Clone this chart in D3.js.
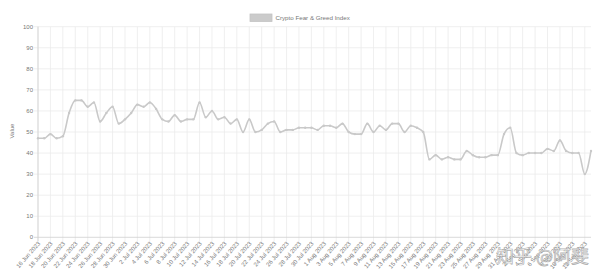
<!DOCTYPE html>
<html>
<head>
<meta charset="utf-8">
<script src="https://cdn.jsdelivr.net/npm/d3@7"></script>
<style>
  body { margin: 0; background: #fff; }
  svg { display: block; font-family: "Liberation Sans", Arial, sans-serif; }
</style>
</head>
<body>
<svg id="chart" width="602" height="279"></svg>
<script>
const seriesName = 'Crypto Fear & Greed Index'
const startDay = new Date(2023, 5, 16)
const endDay = new Date(2023, 8, 13)
const values = [
  47, 47, 49, 47, 48, 59, 65, 65, 62, 64,
  55, 59, 62, 54, 56, 59, 63, 62, 64, 61,
  56, 55, 58, 55, 56, 56, 64, 57, 60, 56,
  57, 54, 56, 50, 56, 50, 51, 54, 55, 50,
  51, 51, 52, 52, 52, 51, 53, 53, 52, 54,
  50, 49, 49, 54, 50, 53, 51, 54, 54, 50,
  53, 52, 50, 37, 39, 37, 38, 37, 37, 41,
  39, 38, 38, 39, 39, 49, 52, 40, 39, 40,
  40, 40, 42, 41, 46, 41, 40, 40, 30, 41,
]
const yTicks = [0, 10, 20, 30, 40, 50, 60, 70, 80, 90, 100]

const days = d3.timeDay.range(startDay, d3.timeDay.offset(endDay, 1))
const fmt = d3.timeFormat('%-d %b %Y')
const labels = days.map(fmt)
const data = labels.map((label, i) => ({ label, value: values[i] }))

const svg = d3.select('#chart')
const x = d3.scalePoint().domain(labels).range([38, 591])
const y = d3.scaleLinear().domain([0, 100]).range([237.3, 26.7])
const shown = labels.filter((d, i) => i % 2 === 0)

// grid
svg.append('g')
  .selectAll('line')
  .data(shown)
  .join('line')
  .attr('x1', (d) => x(d)).attr('x2', (d) => x(d))
  .attr('y1', y(100)).attr('y2', y(0) + 4)
  .attr('stroke', '#ebebeb').attr('stroke-width', 0.8)

svg.append('g')
  .selectAll('line')
  .data(yTicks)
  .join('line')
  .attr('x1', 34).attr('x2', 591)
  .attr('y1', (d) => y(d)).attr('y2', (d) => y(d))
  .attr('stroke', (d) => d === 0 ? '#cfcfcf' : '#ebebeb').attr('stroke-width', 0.8)

svg.append('line')
  .attr('x1', 38).attr('x2', 38)
  .attr('y1', y(100)).attr('y2', y(0) + 4)
  .attr('stroke', '#cfcfcf').attr('stroke-width', 0.8)

// y ticks
svg.append('g')
  .selectAll('text')
  .data(yTicks)
  .join('text')
  .attr('x', 33).attr('y', (d) => y(d) + 2)
  .attr('text-anchor', 'end')
  .attr('font-size', 6).attr('fill', '#777')
  .text((d) => d)

// x ticks
svg.append('g')
  .selectAll('text')
  .data(shown)
  .join('text')
  .attr('transform', (d) => `translate(${x(d) + 1},${y(0) + 5}) rotate(-49)`)
  .attr('text-anchor', 'end')
  .attr('dy', '0.35em')
  .attr('font-size', 6).attr('fill', '#777')
  .text((d) => d)

svg.append('text')
  .attr('transform', `translate(14,131) rotate(-90)`)
  .attr('text-anchor', 'middle')
  .attr('font-size', 6).attr('fill', '#777')
  .text('Value')

// line
svg.append('path')
  .datum(data)
  .attr('fill', 'none')
  .attr('stroke', '#c9c9c9')
  .attr('stroke-width', 1.6)
  .attr('stroke-linejoin', 'round')
  .attr('d', d3.line().x((d) => x(d.label)).y((d) => y(d.value)).curve(d3.curveMonotoneX))

svg.append('g')
  .selectAll('circle')
  .data(data)
  .join('circle')
  .attr('cx', (d) => x(d.label)).attr('cy', (d) => y(d.value))
  .attr('r', 1.2)
  .attr('fill', '#c9c9c9')

// legend
svg.append('rect')
  .attr('x', 250).attr('y', 14).attr('width', 22).attr('height', 7.5)
  .attr('fill', '#cbcbcb').attr('stroke', '#c4c4c4').attr('stroke-width', 0.8)
svg.append('text')
  .attr('x', 275.5).attr('y', 20)
  .attr('font-size', 6.2).attr('fill', '#777')
  .text(seriesName)

// watermark
svg.append('text')
  .attr('x', 496).attr('y', 263)
  .attr('font-family', '"Noto Sans CJK SC", sans-serif')
  .attr('font-size', 18)
  .attr('fill', '#fff').attr('fill-opacity', 0.7)
  .attr('stroke', '#9a9a9a').attr('stroke-width', 0.7).attr('stroke-opacity', 0.8)
  .text('知乎 @阿斐')
</script>
</body>
</html>
